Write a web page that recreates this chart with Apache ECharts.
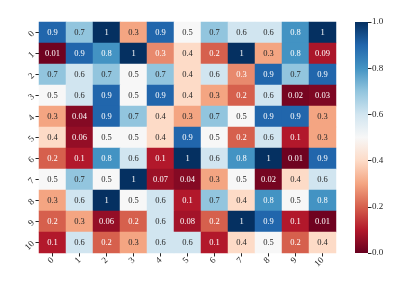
<!DOCTYPE html>
<html><head><meta charset="utf-8">
<script src="https://cdn.jsdelivr.net/npm/echarts@6/dist/echarts.min.js"></script>
<style>html,body{margin:0;padding:0;background:#fff}#c{width:403px;height:281px}</style>
</head><body><div id="c"></div>
<script>
const xLabels = ['0','1','2','3','4','5','6','7','8','9','10'];
const yLabels = ['0','1','2','3','4','5','6','7','8','9','10'];
const row0  = [0.9, 0.7, 1, 0.3, 0.9, 0.5, 0.7, 0.6, 0.6, 0.8, 1];
const row1  = [0.01, 0.9, 0.8, 1, 0.26, 0.4, 0.2, 1, 0.3, 0.8, 0.09];
const row2  = [0.7, 0.6, 0.7, 0.5, 0.7, 0.4, 0.6, 0.26, 0.9, 0.7, 0.9];
const row3  = [0.5, 0.6, 0.9, 0.5, 0.9, 0.4, 0.3, 0.2, 0.6, 0.02, 0.03];
const row4  = [0.3, 0.04, 0.9, 0.7, 0.4, 0.3, 0.7, 0.5, 0.9, 0.9, 0.3];
const row5  = [0.4, 0.06, 0.5, 0.5, 0.4, 0.9, 0.5, 0.2, 0.6, 0.1, 0.3];
const row6  = [0.2, 0.1, 0.8, 0.6, 0.1, 1, 0.6, 0.8, 1, 0.01, 0.9];
const row7  = [0.5, 0.7, 0.5, 1, 0.07, 0.04, 0.3, 0.5, 0.02, 0.4, 0.6];
const row8  = [0.3, 0.6, 1, 0.5, 0.6, 0.1, 0.7, 0.4, 0.8, 0.5, 0.8];
const row9  = [0.2, 0.3, 0.06, 0.2, 0.6, 0.08, 0.2, 1, 0.9, 0.1, 0.01];
const row10 = [0.1, 0.6, 0.2, 0.3, 0.6, 0.6, 0.1, 0.4, 0.5, 0.2, 0.4];
const rows = [row0,row1,row2,row3,row4,row5,row6,row7,row8,row9,row10];
const colorbarTicks = [0, 0.2, 0.4, 0.6, 0.8, 1.0];

const RdBu = ['#67001f','#b2182b','#d6604d','#f4a582','#fddbc7','#f7f7f7','#d1e5f0','#92c5de','#4393c3','#2166ac','#053061'];
function hex2rgb(h){return [parseInt(h.slice(1,3),16),parseInt(h.slice(3,5),16),parseInt(h.slice(5,7),16)];}
function cmap(v){
  const t = Math.max(0,Math.min(1,v))*(RdBu.length-1);
  const i = Math.min(Math.floor(t), RdBu.length-2), f = t-i;
  const a = hex2rgb(RdBu[i]), b = hex2rgb(RdBu[i+1]);
  return a.map((x,k)=>x+(b[k]-x)*f);
}
function lum(rgb){
  const c = rgb.map(x=>{x/=255;return x<=0.03928? x/12.92 : Math.pow((x+0.055)/1.055,2.4);});
  return 0.2126*c[0]+0.7152*c[1]+0.0722*c[2];
}
const data = [];
rows.forEach((r,y)=>r.forEach((v,x)=>{
  data.push({value:[x,y,v], label:{color: lum(cmap(v)) < 0.408 ? '#ffffff' : '#262626'}});
}));

const font = 'Liberation Serif, DejaVu Serif, serif';
const gradStops = RdBu.map((c,i)=>({offset:1 - i/(RdBu.length-1), color:c}));

const chart = echarts.init(document.getElementById('c'));
chart.setOption({
  animation:false,
  backgroundColor:'#fff',
  textStyle:{fontFamily:font},
  grid:[
    {left:39, top:22, width:297, height:231},
    {left:355, top:22, width:13, height:231}
  ],
  xAxis:[
    {type:'category', gridIndex:0, data:xLabels, position:'bottom',
     axisLine:{show:false}, splitLine:{show:false},
     axisTick:{show:true, alignWithLabel:true, length:3.5, lineStyle:{color:'#262626',width:1}},
     axisLabel:{rotate:45, fontSize:9, color:'#262626', fontFamily:font, margin:6}},
    {type:'category', gridIndex:1, data:['c'], show:false}
  ],
  yAxis:[
    {type:'category', gridIndex:0, data:yLabels, inverse:true,
     axisLine:{show:false}, splitLine:{show:false},
     axisTick:{show:true, alignWithLabel:true, length:3.5, lineStyle:{color:'#262626',width:1}},
     axisLabel:{rotate:45, fontSize:9, color:'#262626', fontFamily:font, margin:6}},
    {type:'value', gridIndex:1, min:0, max:1, interval:0.2, position:'right',
     axisLine:{show:false}, splitLine:{show:false},
     axisTick:{show:true, length:3.5, lineStyle:{color:'#262626',width:1}},
     axisLabel:{fontSize:9, color:'#262626', fontFamily:font, margin:4,
       formatter:v=>colorbarTicks.indexOf(Math.round(v*10)/10)>=0 ? v.toFixed(1) : ''}}
  ],
  visualMap:{show:false, min:0, max:1, seriesIndex:0, dimension:2, inRange:{color:RdBu}},
  series:[
    {type:'heatmap', xAxisIndex:0, yAxisIndex:0, data:data,
     label:{show:true, fontSize:8.5, fontFamily:font,
       formatter:p=>String(Number(p.value[2].toPrecision(1)))},
     itemStyle:{borderWidth:0}, emphasis:{disabled:true}},
    {type:'bar', xAxisIndex:1, yAxisIndex:1, data:[1], barWidth:'100%', silent:true,
     itemStyle:{color:new echarts.graphic.LinearGradient(0,0,0,1,gradStops)}}
  ]
});
</script></body></html>
